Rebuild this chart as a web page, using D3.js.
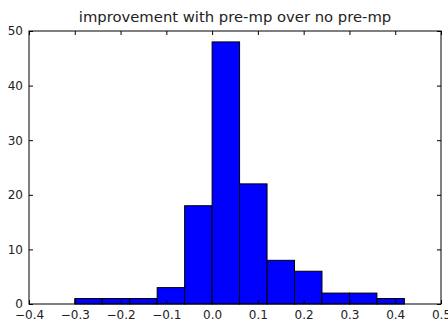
<!DOCTYPE html>
<html>
<head>
<meta charset="utf-8">
<script src="https://cdn.jsdelivr.net/npm/d3@7"></script>
<style>
  body { margin: 0; background: #fff; }
  text { font-family: "DejaVu Sans", sans-serif; fill: #222; }
</style>
</head>
<body>
<div id="chart"></div>
<script>
// bin edges and counts
var binEdges = [-0.30, -0.24, -0.18, -0.12, -0.06, 0.00, 0.06, 0.12, 0.18, 0.24, 0.30, 0.36, 0.42];
var binCounts = [1, 1, 1, 3, 18, 48, 22, 8, 6, 2, 2, 1];
var xTicks = [-0.4, -0.3, -0.2, -0.1, 0.0, 0.1, 0.2, 0.3, 0.4, 0.5];
var yTicks = [0, 10, 20, 30, 40, 50];
var title = "improvement with pre-mp over no pre-mp";

var W = 448, H = 320;
var margin = { top: 31, right: 7, bottom: 16, left: 29 },
  width = W - margin.left - margin.right,
  height = H - margin.top - margin.bottom;

var svg = d3.select("#chart")
  .append("svg")
  .attr("width", W)
  .attr("height", H)
  .append("g")
  .attr("transform", "translate(" + margin.left + "," + margin.top + ")");

var x = d3.scaleLinear().domain([-0.4, 0.5]).range([0, width]);
var y = d3.scaleLinear().domain([0, 50]).range([height, 0]);

var bins = binCounts.map(function (c, i) {
  return { x0: binEdges[i], x1: binEdges[i + 1], n: c };
});

// bars
svg.selectAll("rect.bar")
  .data(bins)
  .enter()
  .append("rect")
  .attr("class", "bar")
  .attr("x", function (d) { return x(d.x0); })
  .attr("width", function (d) { return x(d.x1) - x(d.x0); })
  .attr("y", function (d) { return y(d.n); })
  .attr("height", function (d) { return y(0) - y(d.n); })
  .attr("fill", "#0000ff")
  .attr("stroke", "#000")
  .attr("stroke-width", 1);

// frame
svg.append("rect")
  .attr("width", width)
  .attr("height", height)
  .attr("fill", "none")
  .attr("stroke", "#000")
  .attr("stroke-width", 1);

// inward ticks on all four sides, labels bottom and left
var tick = 4;
svg.append("g")
  .attr("transform", "translate(0," + height + ")")
  .call(d3.axisBottom(x).tickValues(xTicks).tickSizeInner(-tick).tickSizeOuter(0)
    .tickPadding(6).tickFormat(d3.format(".1f")))
  .call(function (g) { g.select(".domain").remove(); });
svg.append("g")
  .call(d3.axisTop(x).tickValues(xTicks).tickSizeInner(-tick).tickSizeOuter(0).tickFormat(""))
  .call(function (g) { g.select(".domain").remove(); });
svg.append("g")
  .call(d3.axisLeft(y).tickValues(yTicks).tickSizeInner(-tick).tickSizeOuter(0).tickPadding(6))
  .call(function (g) { g.select(".domain").remove(); });
svg.append("g")
  .attr("transform", "translate(" + width + ",0)")
  .call(d3.axisRight(y).tickValues(yTicks).tickSizeInner(-tick).tickSizeOuter(0).tickFormat(""))
  .call(function (g) { g.select(".domain").remove(); });

svg.selectAll(".tick text")
  .style("font-family", "DejaVu Sans, sans-serif")
  .style("font-size", "12px")
  .style("fill", "#222");
svg.selectAll(".tick line").attr("stroke", "#000");

svg.append("text")
  .attr("x", width / 2)
  .attr("y", -9)
  .attr("text-anchor", "middle")
  .style("font-size", "14.8px")
  .text(title);
</script>
</body>
</html>
